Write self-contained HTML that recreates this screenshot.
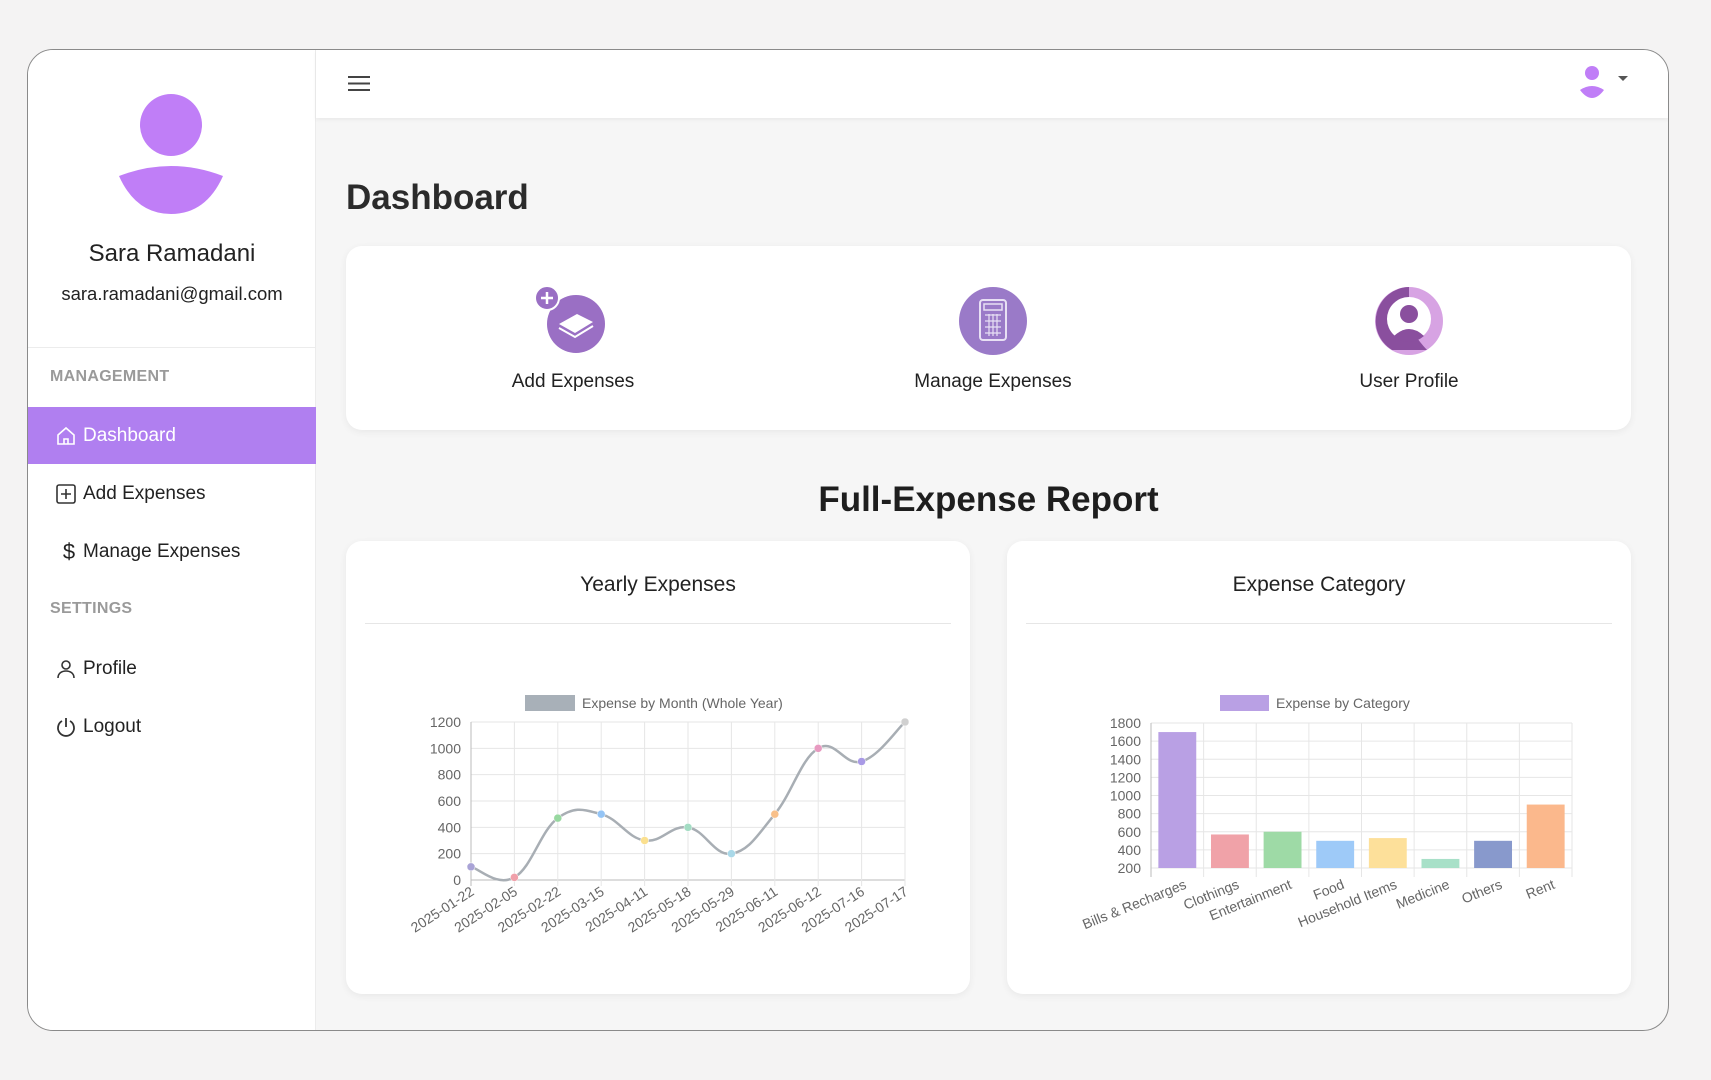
<!DOCTYPE html>
<html><head><meta charset="utf-8">
<style>
*{box-sizing:border-box;margin:0;padding:0}
body{width:1711px;height:1080px;background:#f4f3f3;font-family:"Liberation Sans",Arial,sans-serif;position:relative;overflow:hidden;color:#222}
.frame{position:absolute;left:27px;top:49px;width:1642px;height:982px;border:1.5px solid #8a8a8a;border-radius:26px;background:#f6f6f6;overflow:hidden}
.side{position:absolute;left:0;top:0;width:288px;height:100%;background:#fff;border-right:1px solid #ececec}
.abs{position:absolute}
.top{position:absolute;left:288px;top:0;right:0;height:68px;background:#fff;box-shadow:0 2px 4px rgba(0,0,0,.05)}
.card{position:absolute;background:#fff;border-radius:16px;box-shadow:0 2px 8px rgba(0,0,0,.06)}
.nav{position:absolute;left:0;width:288px;height:57px;display:flex;align-items:center;padding-left:27px;font-size:19px;color:#222}
.nav svg{margin-right:6px}
.sec{position:absolute;left:22px;font-size:16px;font-weight:bold;color:#9a9a9a;letter-spacing:.3px}
</style></head><body>
<div class="frame">
 <div class="side">
  <svg class="abs" style="left:88px;top:42px" width="110" height="124">
   <circle cx="55" cy="33" r="31" fill="#c07ef7"/>
   <path d="M3 84 Q55 64 107 84 Q90 122 55 122 Q20 122 3 84Z" fill="#c07ef7"/>
  </svg>
  <div class="abs" style="left:0;width:288px;top:190px;text-align:center;font-size:24px">Sara Ramadani</div>
  <div class="abs" style="left:0;width:288px;top:233px;text-align:center;font-size:18.5px">sara.ramadani@gmail.com</div>
  <div class="abs" style="left:0;width:288px;top:297px;border-top:1px solid #ececec"></div>
  <div class="sec" style="top:318px">MANAGEMENT</div>
  <div class="nav" style="top:357px;background:#b07ff0;color:#fff">
   <svg width="22" height="22" viewBox="0 0 22 22" fill="none" stroke="#fff" stroke-width="1.6"><path d="M3 10 L11 3 L19 10 V19 H3Z"/><path d="M9 19v-5h4v5"/></svg>Dashboard</div>
  <div class="nav" style="top:415px">
   <svg width="22" height="22" viewBox="0 0 22 22" fill="none" stroke="#333" stroke-width="1.6"><rect x="2" y="2" width="18" height="18" rx="2"/><path d="M11 6v10M6 11h10"/></svg>Add Expenses</div>
  <div class="nav" style="top:473px">
   <span style="font-size:22px;width:28px;display:inline-block;text-align:center">$</span>Manage Expenses</div>
  <div class="sec" style="top:550px">SETTINGS</div>
  <div class="nav" style="top:590px">
   <svg width="22" height="22" viewBox="0 0 22 22" fill="none" stroke="#333" stroke-width="1.6"><circle cx="11" cy="7" r="4"/><path d="M3 20c0-5 4-7 8-7s8 2 8 7"/></svg>Profile</div>
  <div class="nav" style="top:648px">
   <svg width="22" height="22" viewBox="0 0 22 22" fill="none" stroke="#333" stroke-width="1.8"><path d="M7 5a8 8 0 1 0 8 0"/><path d="M11 2v9"/></svg>Logout</div>
 </div>
 <div class="top">
  <svg class="abs" style="left:32px;top:25px" width="22" height="17"><path d="M0 2h22M0 8.5h22M0 15h22" stroke="#444" stroke-width="2"/></svg>
  <svg class="abs" style="left:1262px;top:12px" width="60" height="36"><circle cx="14" cy="11" r="7" fill="#c07ef7"/><path d="M2 28 Q14 20 26 28 Q20 36 14 36 Q8 36 2 28Z" fill="#c07ef7"/><path d="M40 14h10l-5 5z" fill="#555"/></svg>
 </div>
 <div class="abs" style="left:318px;top:128px;font-size:35px;font-weight:bold;color:#2b2b2b">Dashboard</div>
 <div class="card" style="left:318px;top:196px;width:1285px;height:184px">
  <div class="abs" style="left:157px;top:38px;width:140px;text-align:center">
   <svg width="80" height="74"><circle cx="43" cy="40" r="29" fill="#9a6fc4"/><circle cx="14" cy="14" r="12" fill="#9a6fc4" stroke="#fff" stroke-width="2"/><path d="M14 8v12M8 14h12" stroke="#fff" stroke-width="2.5"/><path d="M26 40 L44 30 L60 38 L42 49Z" fill="#fff"/><path d="M26 44 L42 53 L60 42" stroke="#fff" stroke-width="2" fill="none"/></svg>
   <div style="font-size:19px;margin-top:8px">Add Expenses</div></div>
  <div class="abs" style="left:547px;top:38px;width:200px;text-align:center">
   <svg width="74" height="74"><circle cx="37" cy="37" r="34" fill="#9a7ac8"/><rect x="24" y="16" width="26" height="40" rx="3" fill="none" stroke="#e8e0f4" stroke-width="2"/><rect x="28" y="20" width="18" height="6" fill="none" stroke="#e8e0f4" stroke-width="1.5"/><path d="M29 31h16M29 37h16M29 43h16M29 49h16M33 30v22M37 30v22M41 30v22" stroke="#e8e0f4" stroke-width="1.2"/></svg>
   <div style="font-size:19px;margin-top:8px">Manage Expenses</div></div>
  <div class="abs" style="left:993px;top:38px;width:140px;text-align:center">
   <svg width="74" height="74"><circle cx="37" cy="37" r="34" fill="#d7a3e3"/><path d="M37 3 A34 34 0 0 0 20 66 L55 66 Q40 50 37 37Z" fill="#8a4f9e"/><circle cx="37" cy="35" r="22" fill="#fff"/><circle cx="37" cy="30" r="9" fill="#8a4f9e"/><path d="M22 52 Q37 38 52 52 Q45 58 37 58 Q29 58 22 52Z" fill="#8a4f9e"/></svg>
   <div style="font-size:19px;margin-top:8px">User Profile</div></div>
 </div>
 <div class="abs" style="left:318px;width:1285px;top:430px;text-align:center;font-size:35px;font-weight:bold;color:#1e1e1e">Full-Expense Report</div>
 <div class="card" style="left:318px;top:491px;width:624px;height:453px">
  <div class="abs" style="left:0;width:624px;top:32px;text-align:center;font-size:21px">Yearly Expenses</div>
  <div class="abs" style="left:19px;right:19px;top:82px;border-top:1px solid #e6e6e6"></div>
 </div>
 <div class="card" style="left:979px;top:491px;width:624px;height:453px">
  <div class="abs" style="left:0;width:624px;top:32px;text-align:center;font-size:21px">Expense Category</div>
  <div class="abs" style="left:19px;right:19px;top:82px;border-top:1px solid #e6e6e6"></div>
 </div>
</div>
<svg id="charts" class="abs" style="left:0;top:0" width="1711" height="1080" font-family="Liberation Sans, Arial, sans-serif"></svg>
<script>
const lineLabels=["2025-01-22","2025-02-05","2025-02-22","2025-03-15","2025-04-11","2025-05-18","2025-05-29","2025-06-11","2025-06-12","2025-07-16","2025-07-17"];
const lineValues=[100,20,470,500,300,400,200,500,1000,900,1200];
const lineTicks=[0,200,400,600,800,1000,1200];
const pointColors=["#a9a3d6","#f0a0aa","#98d8a0","#94c4f5","#fbe08f","#a3dcc3","#a9d8e8","#f8c08a","#e79ac0","#a99ae6","#d0d0d0"];
const barLabels=["Bills & Recharges","Clothings","Entertainment","Food","Household Items","Medicine","Others","Rent"];
const barValues=[1700,570,600,500,530,300,500,900];
const barTicks=[200,400,600,800,1000,1200,1400,1600,1800];
const barColors=["#b9a0e4","#f0a2a8","#9edaa6","#9ecaf8","#fde09a","#a8e0c8","#8899cc","#fbb88c"];
const NS="http://www.w3.org/2000/svg";
const svg=document.getElementById('charts');
function mk(t,a,p){const e=document.createElementNS(NS,t);for(const k in a)e.setAttribute(k,a[k]);(p||svg).appendChild(e);return e;}
(function(){
 const x0=471,x1=905,yT=722,yB=880,max=1200;
 const g=mk('g',{});
 const xs=i=>x0+i*(x1-x0)/(lineLabels.length-1), ys=v=>yB-(v/max)*(yB-yT);
 lineTicks.forEach(t=>{mk('line',{x1:x0,x2:x1,y1:ys(t),y2:ys(t),stroke:t===0?'#bbb':'#e6e6e6'},g);
  const tx=mk('text',{x:x0-10,y:ys(t)+5,'text-anchor':'end','font-size':14,fill:'#666'},g);tx.textContent=t;});
 lineLabels.forEach((l,i)=>{mk('line',{x1:xs(i),x2:xs(i),y1:yT,y2:yB+6,stroke:i===0?'#bbb':'#e6e6e6'},g);
  const tx=mk('text',{transform:`translate(${xs(i)+4},${yB+14}) rotate(-33)`,'text-anchor':'end','font-size':14,fill:'#666'},g);tx.textContent=l;
  });
 const P=lineValues.map((v,i)=>[xs(i),ys(v)]);
 let d=`M${P[0][0]},${P[0][1]}`;
 for(let i=0;i<P.length-1;i++){const p0=P[i-1]||P[i],p1=P[i],p2=P[i+1],p3=P[i+2]||p2,k=0.2;
  d+=` C${p1[0]+(p2[0]-p0[0])*k},${p1[1]+(p2[1]-p0[1])*k} ${p2[0]-(p3[0]-p1[0])*k},${p2[1]-(p3[1]-p1[1])*k} ${p2[0]},${p2[1]}`;}
 const pl=mk('path',{d,fill:'none',stroke:'#a8aeb4','stroke-width':2.5},g);
 
 P.forEach((p,i)=>{const c=mk('circle',{cx:p[0],cy:p[1],r:4,fill:pointColors[i],stroke:'#fff','stroke-width':0.5},g);
  });
 const lg=mk('rect',{x:525,y:695,width:50,height:16,fill:'#a8b0b8'},g);
 
 const lt=mk('text',{x:582,y:708,'font-size':14,fill:'#666'},g);lt.textContent='Expense by Month (Whole Year)';
 
})();
(function(){
 const x0=1151,x1=1572,yT=723,yB=868,min=200,max=1800;
 const g=mk('g',{});
 const cw=(x1-x0)/barLabels.length, ys=v=>yB-((v-min)/(max-min))*(yB-yT);
 barTicks.forEach(t=>{mk('line',{x1:x0,x2:x1,y1:ys(t),y2:ys(t),stroke:'#e6e6e6'},g);
  const tx=mk('text',{x:x0-10,y:ys(t)+5,'text-anchor':'end','font-size':14,fill:'#666'},g);tx.textContent=t;});
 for(let i=0;i<=barLabels.length;i++)mk('line',{x1:x0+i*cw,x2:x0+i*cw,y1:yT,y2:yB+9,stroke:i===0?'#bbb':'#e6e6e6'},g);
 barLabels.forEach((l,i)=>{const bw=cw*0.72,bx=x0+i*cw+(cw-bw)/2;
  const r=mk('rect',{x:bx,y:ys(barValues[i]),width:bw,height:yB-ys(barValues[i]),fill:barColors[i]},g);
  
  const tx=mk('text',{transform:`translate(${x0+(i+0.5)*cw+10},${yB+20}) rotate(-22)`,'text-anchor':'end','font-size':14,fill:'#666'},g);tx.textContent=l;
  });
 const lg=mk('rect',{x:1220,y:695,width:49,height:16,fill:'#b9a0e4'},g);
 
 const lt=mk('text',{x:1276,y:708,'font-size':14,fill:'#666'},g);lt.textContent='Expense by Category';
 
})();
</script>
</body></html>
